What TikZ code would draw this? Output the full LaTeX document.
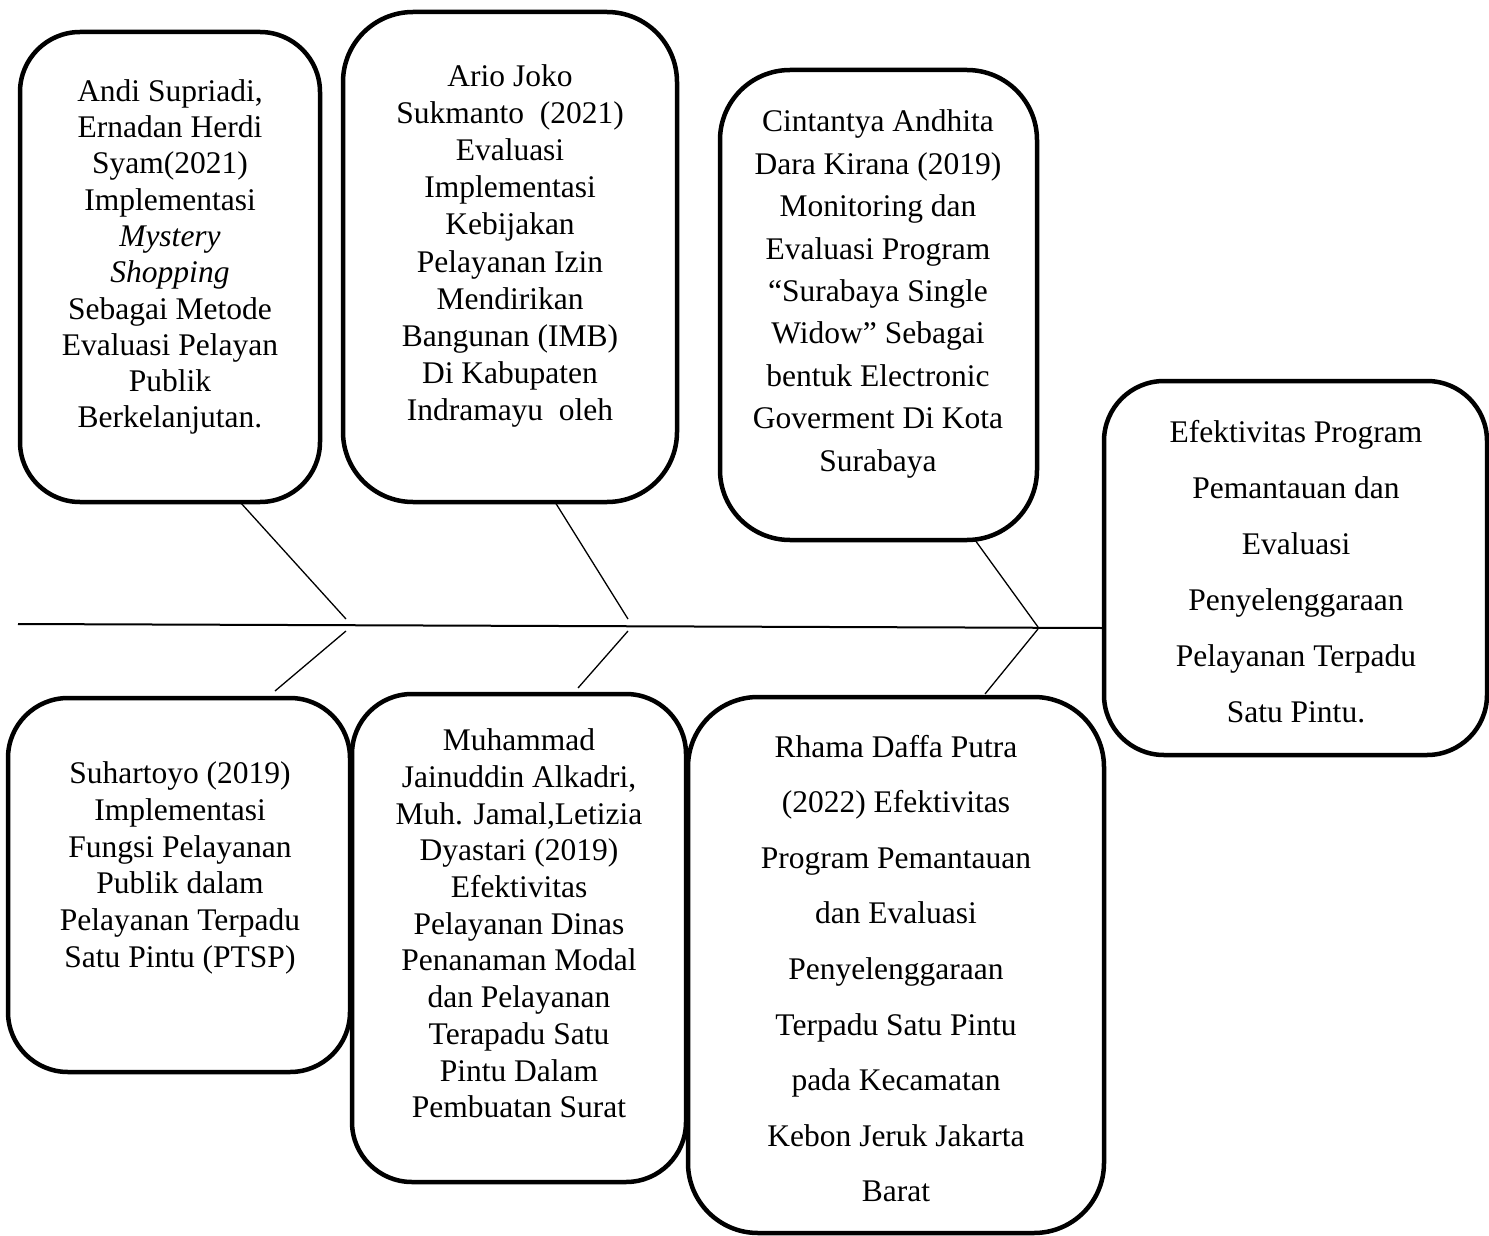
\documentclass[tikz,border=0pt]{standalone}
\usepackage{fontspec}
\setmainfont{Liberation Serif}
\begin{document}
\begin{tikzpicture}[x=1pt,y=-1pt,
  box/.style={draw, line width=4.5pt, rounded corners=#1, inner sep=0pt},
  txt/.style={align=center, inner sep=0pt, font={\fontsize{31.5}{#1}\selectfont}},
  bone/.style={line width=1.3pt},
  spine/.style={line width=2pt}]
\useasboundingbox (0,0) rectangle (1489,1236);
% boxes
\node[box=60, minimum width=300, minimum height=470] (A) at (170,267) {};
\node[box=70, minimum width=334, minimum height=490] (B) at (510,257) {};
\node[box=70, minimum width=317, minimum height=470] (C) at (878.5,305) {};
\node[box=60, minimum width=383, minimum height=374] (D) at (1295.5,568) {};
\node[box=60, minimum width=342, minimum height=374] (E) at (179,885) {};
\node[box=60, minimum width=334, minimum height=488] (F) at (519,938) {};
\node[box=70, minimum width=416, minimum height=536] (G) at (896,965) {};
% texts
\node[txt=36.3] (tA) at (170,257) {Andi Supriadi,\\Ernadan Herdi\\Syam(2021)\\Implementasi\\\textit{Mystery}\\\textit{Shopping}\\Sebagai Metode\\Evaluasi Pelayan\\Publik\\Berkelanjutan.};
\node[txt=37.2] (tB) at (510,246) {Ario Joko\\Sukmanto\ \ (2021)\\Evaluasi\\Implementasi\\Kebijakan\\Pelayanan Izin\\Mendirikan\\Bangunan (IMB)\\Di Kabupaten\\Indramayu\ \ oleh};
\node[txt=42.4] (tC) at (878,294) {Cintantya Andhita\\Dara Kirana (2019)\\Monitoring dan\\Evaluasi Program\\“Surabaya Single\\Widow” Sebagai\\bentuk Electronic\\Goverment Di Kota\\Surabaya};
\node[txt=56] (tD) at (1296,572) {Efektivitas Program\\Pemantauan dan\\Evaluasi\\Penyelenggaraan\\Pelayanan Terpadu\\Satu Pintu.};
\node[txt=36.8] (tE) at (180,868) {Suhartoyo (2019)\\Implementasi\\Fungsi Pelayanan\\Publik dalam\\Pelayanan Terpadu\\Satu Pintu (PTSP)};
\node[txt=36.7] (tF) at (519,923.5) {Muhammad\\Jainuddin Alkadri,\\Muh. Jamal,Letizia\\Dyastari (2019)\\Efektivitas\\Pelayanan Dinas\\Penanaman Modal\\dan Pelayanan\\Terapadu Satu\\Pintu Dalam\\Pembuatan Surat};
\node[txt=55.6] (tG) at (896,968.5) {Rhama Daffa Putra\\(2022) Efektivitas\\Program Pemantauan\\dan Evaluasi\\Penyelenggaraan\\Terpadu Satu Pintu\\pada Kecamatan\\Kebon Jeruk Jakarta\\Barat};
% spine
\coordinate (tail) at (18,624);
\draw[spine] (tail) -- (D.west |- 0,628);
% branch joints
\coordinate (a0) at (240,502); \coordinate (a1) at (346,619);
\coordinate (b0) at (555,502); \coordinate (b1) at (628,619);
\coordinate (c0) at (975,540); \coordinate (c1) at (1038,627);
\coordinate (e0) at (275,691); \coordinate (e1) at (346,631);
\coordinate (f0) at (578,688); \coordinate (f1) at (628,631);
\coordinate (g0) at (985,694); \coordinate (g1) at (1038,629);
\draw[bone] (a0) -- (a1);
\draw[bone] (b0) -- (b1);
\draw[bone] (c0) -- (c1);
\draw[bone] (e0) -- (e1);
\draw[bone] (f0) -- (f1);
\draw[bone] (g0) -- (g1);
\end{tikzpicture}
\end{document}
